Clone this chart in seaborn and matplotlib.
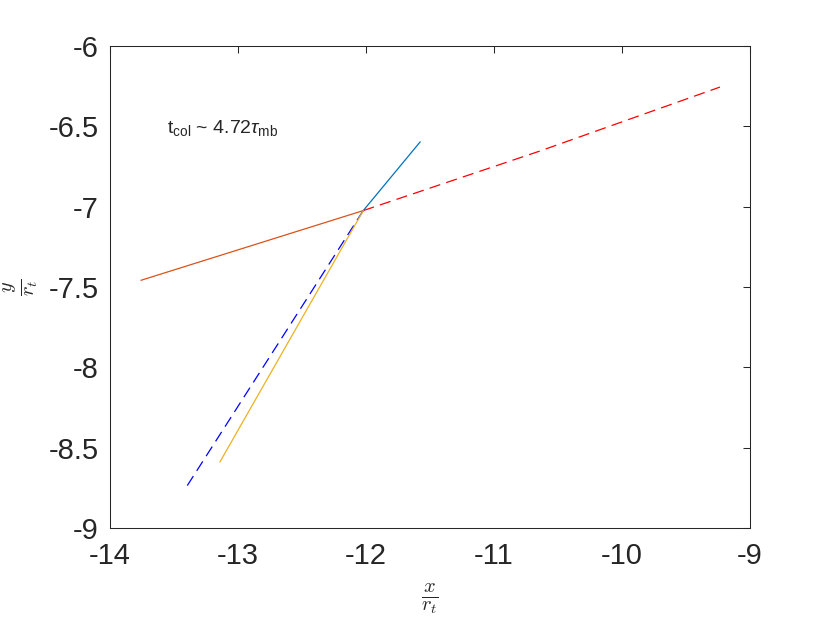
import pandas as pd
import seaborn as sns
import matplotlib
matplotlib.use("Agg")
import matplotlib.pyplot as plt

# segments (x/r_t, y/r_t)
orange_x = [-13.758, -12.021]
orange_y = [-7.458, -7.024]
red_x = [-12.021, -10.64, -9.234]
red_y = [-7.024, -6.653, -6.255]
blue_x = [-12.021, -11.576]
blue_y = [-7.024, -6.596]
bluedash_x = [-13.396, -12.021]
bluedash_y = [-8.736, -7.024]
yellow_x = [-13.141, -12.021]
yellow_y = [-8.589, -7.024]

xticks = [-14, -13, -12, -11, -10, -9]
yticks = [-9, -8.5, -8, -7.5, -7, -6.5, -6]
ytick_labels = ["-9", "-8.5", "-8", "-7.5", "-7", "-6.5", "-6"]

sns.set_style("white")
plt.rcParams["font.family"] = ["Liberation Sans", "DejaVu Sans"]
plt.rcParams["mathtext.fontset"] = "custom"
plt.rcParams["mathtext.rm"] = "Liberation Sans"
plt.rcParams["mathtext.it"] = "Liberation Sans:italic"

fig = plt.figure(figsize=(8.3, 6.23), dpi=100)
ax = fig.add_axes([0.1325, 0.1525, 0.771, 0.7735])

segs = [
    (orange_x, orange_y, "#D95319", "-"),
    (red_x, red_y, "#FF0000", "--"),
    (blue_x, blue_y, "#0072BD", "-"),
    (bluedash_x, bluedash_y, "#0000FF", "--"),
    (yellow_x, yellow_y, "#EDB120", "-"),
]
for xs, ys, col, ls in segs:
    d = pd.DataFrame({"x": xs, "y": ys})
    sns.lineplot(data=d, x="x", y="y", sort=False, color=col, lw=0.9, ax=ax)
    if ls == "--":
        ax.lines[-1].set_dashes((9, 5))

ax.set_xlim(-14, -9)
ax.set_ylim(-9, -6)
ax.set_xticks(xticks)
ax.set_xticklabels([str(t) for t in xticks])
ax.set_yticks(yticks)
ax.set_yticklabels(ytick_labels)
ax.tick_params(direction="in", length=5, width=0.75, color="#262626",
               labelsize=21, labelcolor="#262626",
               top=True, right=True)
ax.tick_params(axis="x", pad=10)
ax.tick_params(axis="y", pad=8)
for s in ax.spines.values():
    s.set_color("#262626")
    s.set_linewidth(0.75)

ax.set_xlabel(r"$\frac{x}{r_t}$", fontsize=21, math_fontfamily="cm", labelpad=8)
ax.set_ylabel(r"$\frac{y}{r_t}$", fontsize=21, math_fontfamily="cm", labelpad=6)

ax.text(-13.555, -6.51, r"t$_{\mathrm{col}}$ ~ 4.72$\tau_{\mathrm{mb}}$",
        fontsize=14, va="center", ha="left")

fig.savefig("out.png", dpi=100)
